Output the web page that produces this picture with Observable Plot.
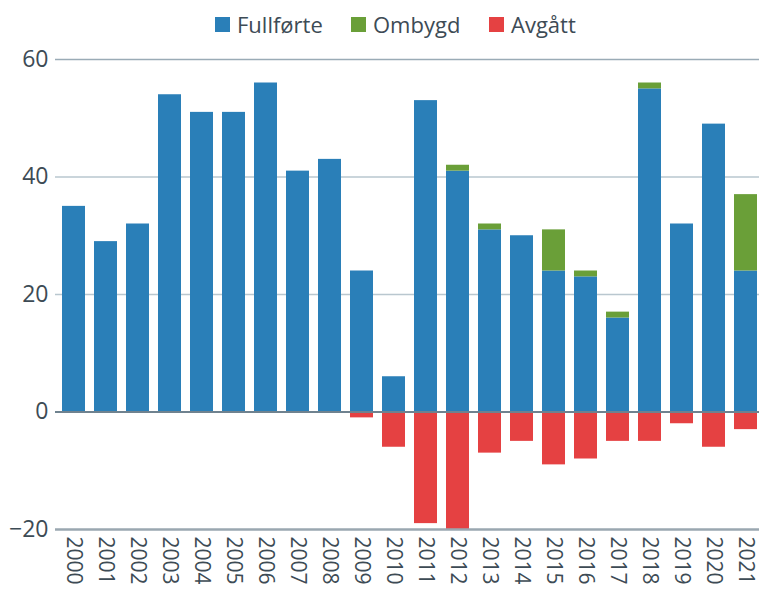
<!DOCTYPE html>
<html>
<head>
<meta charset="utf-8">
<script src="https://cdn.jsdelivr.net/npm/d3@7"></script>
<script src="https://cdn.jsdelivr.net/npm/@observablehq/plot@0.6"></script>
<style>
  html, body { margin: 0; padding: 0; background: #fff; }
  body { width: 759px; height: 589px; overflow: hidden; font-family: "Open Sans", sans-serif; }
  #legend { position: relative; height: 44px; }
  .item { position: absolute; top: 9px; display: flex; align-items: center; height: 30px; }
  .sw { width: 15px; height: 15px; margin-right: 7px; flex: none; }
  .lab { font-size: 22px; color: #3d4b55; white-space: nowrap; line-height: 30px; }
  #chart svg { display: block; }
</style>
</head>
<body>
<div id="legend"></div>
<div id="chart"></div>
<script>
const years = ["2000","2001","2002","2003","2004","2005","2006","2007","2008","2009","2010",
               "2011","2012","2013","2014","2015","2016","2017","2018","2019","2020","2021"];
const fullforte = [35, 29, 32, 54, 51, 51, 56, 41, 43, 24, 6, 53, 41, 31, 30, 24, 23, 16, 55, 32, 49, 24];
const ombygd    = [0, 0, 0, 0, 0, 0, 0, 0, 0, 0, 0, 0, 1, 1, 0, 7, 1, 1, 1, 0, 0, 13];
const avgatt    = [0, 0, 0, 0, 0, 0, 0, 0, 0, -1, -6, -19, -20, -7, -5, -9, -8, -5, -5, -2, -6, -3];
const seriesNames = ["Fullførte", "Ombygd", "Avgått"];
const seriesColors = ["#2a7fb8", "#6a9f38", "#e54142"];
const yTicks = [-20, 0, 20, 40, 60];

const data = [];
years.forEach((y, i) => {
  data.push({year: y, type: seriesNames[0], value: fullforte[i]});
  data.push({year: y, type: seriesNames[1], value: ombygd[i]});
  data.push({year: y, type: seriesNames[2], value: avgatt[i]});
});

// legend
const legendPos = [215, 351, 489];
const legend = document.getElementById("legend");
seriesNames.forEach((n, i) => {
  const d = document.createElement("div");
  d.className = "item";
  d.style.left = legendPos[i] + "px";
  d.innerHTML = `<span class="sw" style="background:${seriesColors[i]}"></span><span class="lab">${n}</span>`;
  legend.appendChild(d);
});

const chart = Plot.plot({
  width: 759,
  height: 545,
  marginLeft: 55,
  marginRight: 0,
  marginTop: 15,
  marginBottom: 60,
  style: {fontFamily: "Open Sans, sans-serif", color: "#3d4b55", background: "#fff", overflow: "visible"},
  x: {domain: years, range: [55, 763], paddingInner: 0.284, paddingOuter: 0.156, label: null},
  y: {domain: [-20, 60], label: null},
  color: {domain: seriesNames, range: seriesColors},
  marks: [
    Plot.ruleY([20, 40], {stroke: "#b9c7cf", strokeWidth: 1.5}),
    Plot.ruleY([60], {stroke: "#9aabb6", strokeWidth: 1.5}),
    Plot.barY(data, {x: "year", y: "value", fill: "type"}),
    Plot.ruleY([0], {stroke: "#6f828f", strokeWidth: 2}),
    Plot.ruleY([-20], {stroke: "#9aa7b0", strokeWidth: 2.5}),
    Plot.ruleX([0], {frameAnchor: "left", y1: -20, y2: 60, stroke: "#7d8d98", strokeWidth: 2}),
    Plot.axisY({ticks: yTicks, tickSize: 0, tickPadding: 7, fontSize: 23, fill: "#3d4b55"}),
    Plot.axisX({tickSize: 0, tickPadding: 7, tickRotate: 90, fontSize: 21, fill: "#3d4b55"})
  ]
});
document.getElementById("chart").appendChild(chart);
</script>
</body>
</html>
